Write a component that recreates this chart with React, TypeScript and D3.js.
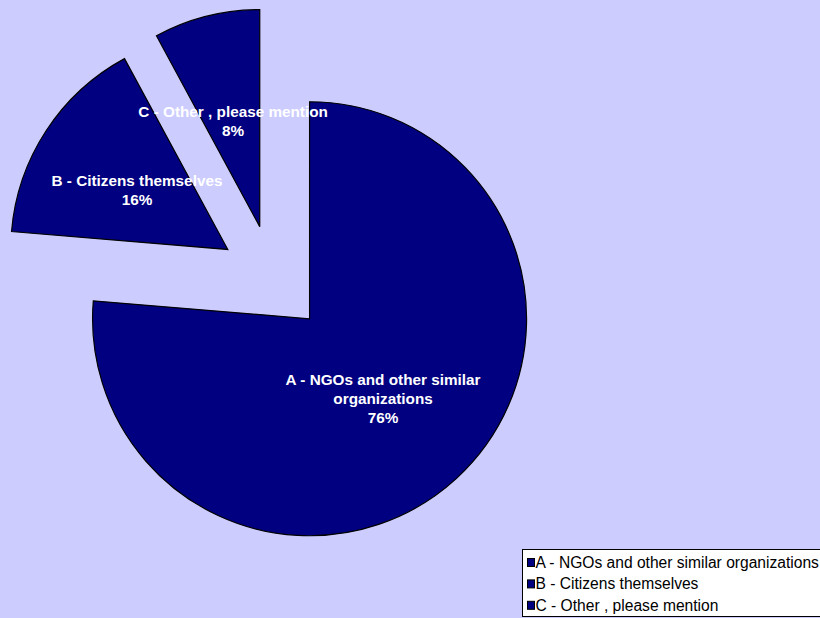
import React from "react";
import * as d3 from "d3";

const categories = [
  "A - NGOs and other similar organizations",
  "B - Citizens themselves",
  "C - Other , please mention",
];
const values = [29, 6, 3];
const percentLabels = ["76%", "16%", "8%"];
const sliceLabelLines = [
  ["A - NGOs and other similar", "organizations"],
  ["B - Citizens themselves"],
  ["C - Other , please mention"],
];

const W = 820;
const H = 618;
const CX = 273;
const CY = 279;
const R = 217;
const EXPLODE = 54;
const FILL = "#000080";
const BG = "#CCCCFF";
const FONT = "'Liberation Sans', Arial, sans-serif";

export default function App() {
  const pie = d3
    .pie<number>()
    .sort(null)
    .value((d) => d)
    .startAngle(0)
    .endAngle(2 * Math.PI);
  const arcs = pie(values);
  const arcGen = d3.arc<d3.PieArcDatum<number>>().innerRadius(0).outerRadius(R);
  const lineH = 19;

  return (
    <svg
      width={W}
      height={H}
      style={{ position: "absolute", left: 0, top: 0, display: "block" }}
    >
      <rect x={0} y={0} width={W} height={H} fill={BG} />
      <g transform={`translate(${CX},${CY})`}>
        {arcs.map((a, i) => {
          const mid = (a.startAngle + a.endAngle) / 2;
          const ox = Math.sin(mid) * EXPLODE;
          const oy = -Math.cos(mid) * EXPLODE;
          return (
            <path
              key={i}
              d={arcGen(a) || ""}
              transform={`translate(${ox},${oy})`}
              fill={FILL}
              stroke="#000"
              strokeWidth={1.2}
              strokeLinejoin="miter"
            />
          );
        })}
        {arcs.map((a, i) => {
          const mid = (a.startAngle + a.endAngle) / 2;
          const ox = Math.sin(mid) * EXPLODE;
          const oy = -Math.cos(mid) * EXPLODE;
          const [cx, cy] = arcGen.centroid(a);
          const lines = [...sliceLabelLines[i], percentLabels[i]];
          const y0 = cy + oy - ((lines.length - 1) * lineH) / 2;
          return (
            <text
              key={"l" + i}
              textAnchor="middle"
              fontFamily={FONT}
              fontWeight="bold"
              fontSize={15.3}
              fill="#fff"
            >
              {lines.map((t, j) => (
                <tspan key={j} x={cx + ox} y={y0 + j * lineH} dy="0.35em">
                  {t}
                </tspan>
              ))}
            </text>
          );
        })}
      </g>
      <g>
        <rect x={522.5} y={549.5} width={310} height={67} fill="#fff" stroke="#000" strokeWidth={1} />
        {categories.map((c, i) => {
          const y = 562.5 + i * 21.4;
          return (
            <g key={c}>
              <rect x={527.5} y={y - 4} width={7} height={8} fill={FILL} stroke="#000" strokeWidth={1} />
              <text x={535.5} y={y} dy="0.35em" fontFamily={FONT} fontSize={15.6} fill="#000">
                {c}
              </text>
            </g>
          );
        })}
      </g>
    </svg>
  );
}
